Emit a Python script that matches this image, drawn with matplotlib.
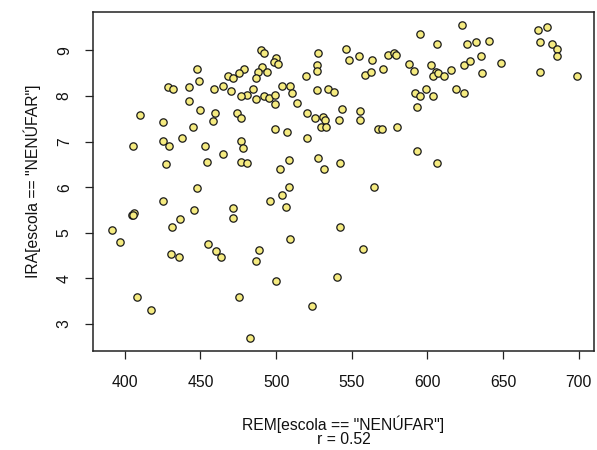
import matplotlib
matplotlib.use("Agg")
import matplotlib.pyplot as plt

plt.rcParams['font.family'] = ['Liberation Sans', 'DejaVu Sans']

# REM (x) and IRA (y) values for escola == "NENÚFAR"
rem = [
    489.9, 492.1, 500.1, 498.7, 501.4, 447.8, 478.5, 490.8, 487.7, 493.9,
    475.4, 468.5, 471.8, 486.8, 519.5, 448.9, 428.4, 431.7, 442.7, 459.1,
    465.2, 470.5, 484.6, 504.0, 509.3, 510.4, 480.7, 476.7, 486.8, 491.7,
    495.4, 499.2, 499.2, 442.7, 513.8, 449.8, 520.4, 410.1, 459.3, 458.2,
    474.1, 476.7, 425.5, 445.0, 499.2, 507.3, 520.4, 437.7, 405.7, 425.5,
    429.5, 453.1, 476.7, 477.8, 465.2, 427.5, 454.0, 476.7, 480.7, 508.2,
    502.3, 447.8, 508.2,
    622.9, 595.3, 606.5, 625.9, 632.1, 640.5, 527.8, 546.2, 548.3, 554.5,
    563.6, 573.7, 578.1, 579.5, 526.7, 526.7, 558.5, 562.4, 570.8, 588.0,
    591.3, 602.4, 605.4, 603.4, 606.7, 610.7, 615.8, 624.0, 628.4, 635.2,
    636.1, 648.4, 526.7, 534.0, 538.0, 592.0, 595.3, 599.3, 603.4, 618.7,
    624.0, 593.1, 525.7, 531.0, 532.0, 529.6, 533.1, 541.3, 543.3, 555.4,
    555.4, 567.5, 569.7, 579.9, 527.8, 531.8, 541.9, 593.1, 606.5, 564.7,
    672.9, 679.1, 674.2, 682.1, 685.7, 685.7, 674.2, 698.7,
    391.8, 396.9, 404.8, 406.3, 405.5, 407.9, 417.2, 425.5, 431.5, 436.6,
    430.6, 435.7, 445.8, 455.1, 460.2, 463.5, 471.6, 471.6, 475.6, 482.9,
    486.6, 488.8, 496.1, 504.0, 506.2, 509.3, 499.9, 523.7,
    541.9, 557.1, 540.2,
]
ira = [
    9.01, 8.94, 8.84, 8.74, 8.70, 8.59, 8.59, 8.63, 8.52, 8.53,
    8.50, 8.43, 8.39, 8.39, 8.43, 8.33, 8.19, 8.16, 8.19, 8.16,
    8.22, 8.12, 8.16, 8.22, 8.22, 8.06, 8.02, 7.99, 7.93, 7.99,
    7.95, 8.02, 7.82, 7.89, 7.85, 7.69, 7.62, 7.58, 7.62, 7.45,
    7.62, 7.51, 7.42, 7.32, 7.28, 7.21, 7.07, 7.07, 6.90, 7.01,
    6.90, 6.90, 7.01, 6.87, 6.73, 6.50, 6.56, 6.56, 6.53, 6.60,
    6.39, 5.98, 6.00,
    9.55, 9.35, 9.14, 9.14, 9.18, 9.21, 8.94, 9.04, 8.80, 8.87,
    8.80, 8.91, 8.95, 8.90, 8.68, 8.56, 8.46, 8.53, 8.59, 8.70,
    8.56, 8.67, 8.53, 8.43, 8.50, 8.43, 8.57, 8.67, 8.77, 8.87,
    8.50, 8.73, 8.13, 8.16, 8.09, 8.06, 7.99, 8.16, 7.99, 8.16,
    8.06, 7.75, 7.51, 7.55, 7.48, 7.31, 7.31, 7.48, 7.72, 7.68,
    7.48, 7.28, 7.28, 7.31, 6.63, 6.39, 6.53, 6.80, 6.53, 6.01,
    9.45, 9.52, 9.18, 9.14, 9.04, 8.87, 8.53, 8.43,
    5.06, 4.79, 5.38, 5.43, 5.40, 3.60, 3.30, 5.70, 5.13, 5.30,
    4.53, 4.48, 5.50, 4.76, 4.59, 4.48, 5.54, 5.33, 3.60, 2.69,
    4.38, 4.62, 5.70, 5.84, 5.57, 4.86, 3.94, 3.39,
    5.13, 4.65, 4.04,
]

xticks = [400, 450, 500, 550, 600, 650, 700]
yticks = [3, 4, 5, 6, 7, 8, 9]
xlabel = 'REM[escola == "NENÚFAR"]'
ylabel = 'IRA[escola == "NENÚFAR"]'
subtitle = 'r = 0.52'

W, H = 597, 450
fig = plt.figure(figsize=(W / 100, H / 100), dpi=100)
left, right, top, bottom = 93.3, 593.5, 11.7, 350.7
ax = fig.add_axes([left / W, 1 - bottom / H, (right - left) / W, (bottom - top) / H])

ax.scatter(rem, ira, s=28, facecolor='#F5EB80', edgecolor='#1a1a1a', linewidths=0.9, zorder=3)

ax.set_xlim(379.2, 709.7)
ax.set_ylim(2.414, 9.85)
ax.set_xticks(xticks)
ax.set_yticks(yticks)
ax.set_xticklabels([str(v) for v in xticks])
ax.set_yticklabels([str(v) for v in yticks], rotation=90, va='center')

fs = 11.3
ax.tick_params(axis='both', direction='out', length=5.5, width=0.9, color='#222222',
               labelsize=fs, labelcolor='#111111')
ax.tick_params(axis='x', pad=12)
ax.tick_params(axis='y', pad=10)
for sp in ax.spines.values():
    sp.set_linewidth(1.1)
    sp.set_color('#222222')

cx = (left + right) / 2 / W
fig.text(cx, 1 - 424 / H, xlabel, ha='center', va='center', fontsize=fs, color='#111111')
fig.text(cx, 1 - 440 / H, subtitle, ha='center', va='center', fontsize=fs, color='#111111')
fig.text(32 / W, 1 - (top + bottom) / 2 / H, ylabel, ha='center', va='center',
         rotation=90, fontsize=fs, color='#111111')

fig.savefig('out.png', dpi=100)
